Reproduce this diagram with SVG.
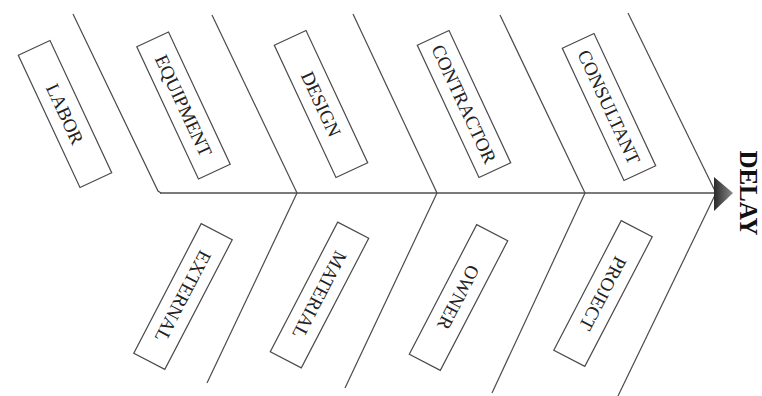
<svg xmlns="http://www.w3.org/2000/svg" width="762" height="396" viewBox="0 0 762 396">
<style>
.bone{stroke:#4a4a4a;stroke-width:1.2;fill:none}
.spine{stroke:#7a7a7a;stroke-width:2.2;fill:none}
.box rect{fill:#fff;stroke:#4a4a4a;stroke-width:1.2}
.box text{font-family:"Liberation Serif","Times New Roman",serif;font-size:19px;fill:#222;text-anchor:middle;dominant-baseline:central}
.title{font-family:"Liberation Serif","Times New Roman",serif;font-size:25px;font-weight:bold;fill:#111;text-anchor:middle}
</style>
<defs>
<linearGradient id="ag" x1="0" y1="0" x2="1" y2="0">
<stop offset="0" stop-color="#2a2a2a"/>
<stop offset="1" stop-color="#8a8a8a"/>
</linearGradient>
</defs>
<rect width="762" height="396" fill="#fff"/>
<g id="connectors">
<line class="spine" x1="160" y1="193" x2="716" y2="193"/>
<polyline class="bone" points="73,14 158,191 161,193"/>
<line class="bone" x1="212" y1="15" x2="297" y2="193"/>
<line class="bone" x1="353" y1="14" x2="437" y2="193"/>
<line class="bone" x1="500" y1="15" x2="585" y2="193"/>
<line class="bone" x1="628" y1="13" x2="716" y2="193"/>
<line class="bone" x1="297" y1="193" x2="207" y2="383"/>
<line class="bone" x1="437" y1="193" x2="345" y2="388"/>
<line class="bone" x1="585" y1="193" x2="492" y2="393"/>
<line class="bone" x1="716" y1="193" x2="618" y2="396"/>
</g>
<g id="effect">
<polygon points="714,177 733,193 714,211" fill="url(#ag)"/>
<text class="title" transform="translate(740,193) rotate(90)">DELAY</text>
</g>
<g id="labor" class="box" transform="translate(65,114) rotate(65)">
<rect x="-73" y="-17.5" width="146" height="35"/>
<text>LABOR</text>
</g>
<g id="equipment" class="box" transform="translate(183.5,105.5) rotate(65)">
<rect x="-73" y="-17.5" width="146" height="35"/>
<text>EQUIPMENT</text>
</g>
<g id="design" class="box" transform="translate(321,104) rotate(65)">
<rect x="-73" y="-17.5" width="146" height="35"/>
<text>DESIGN</text>
</g>
<g id="contractor" class="box" transform="translate(464,104) rotate(65)">
<rect x="-73" y="-17.5" width="146" height="35"/>
<text>CONTRACTOR</text>
</g>
<g id="consultant" class="box" transform="translate(609,107) rotate(65)">
<rect x="-73" y="-17.5" width="146" height="35"/>
<text>CONSULTANT</text>
</g>
<g id="external" class="box" transform="translate(183,296.5) rotate(117.5)">
<rect x="-73" y="-17.5" width="146" height="35"/>
<text>EXTERNAL</text>
</g>
<g id="material" class="box" transform="translate(319.5,295) rotate(117.5)">
<rect x="-73" y="-17.5" width="146" height="35"/>
<text>MATERIAL</text>
</g>
<g id="owner" class="box" transform="translate(458.5,297.5) rotate(117.5)">
<rect x="-73" y="-17.5" width="146" height="35"/>
<text>OWNER</text>
</g>
<g id="project" class="box" transform="translate(603,293.5) rotate(117.5)">
<rect x="-73" y="-17.5" width="146" height="35"/>
<text>PROJECT</text>
</g>
</svg>
